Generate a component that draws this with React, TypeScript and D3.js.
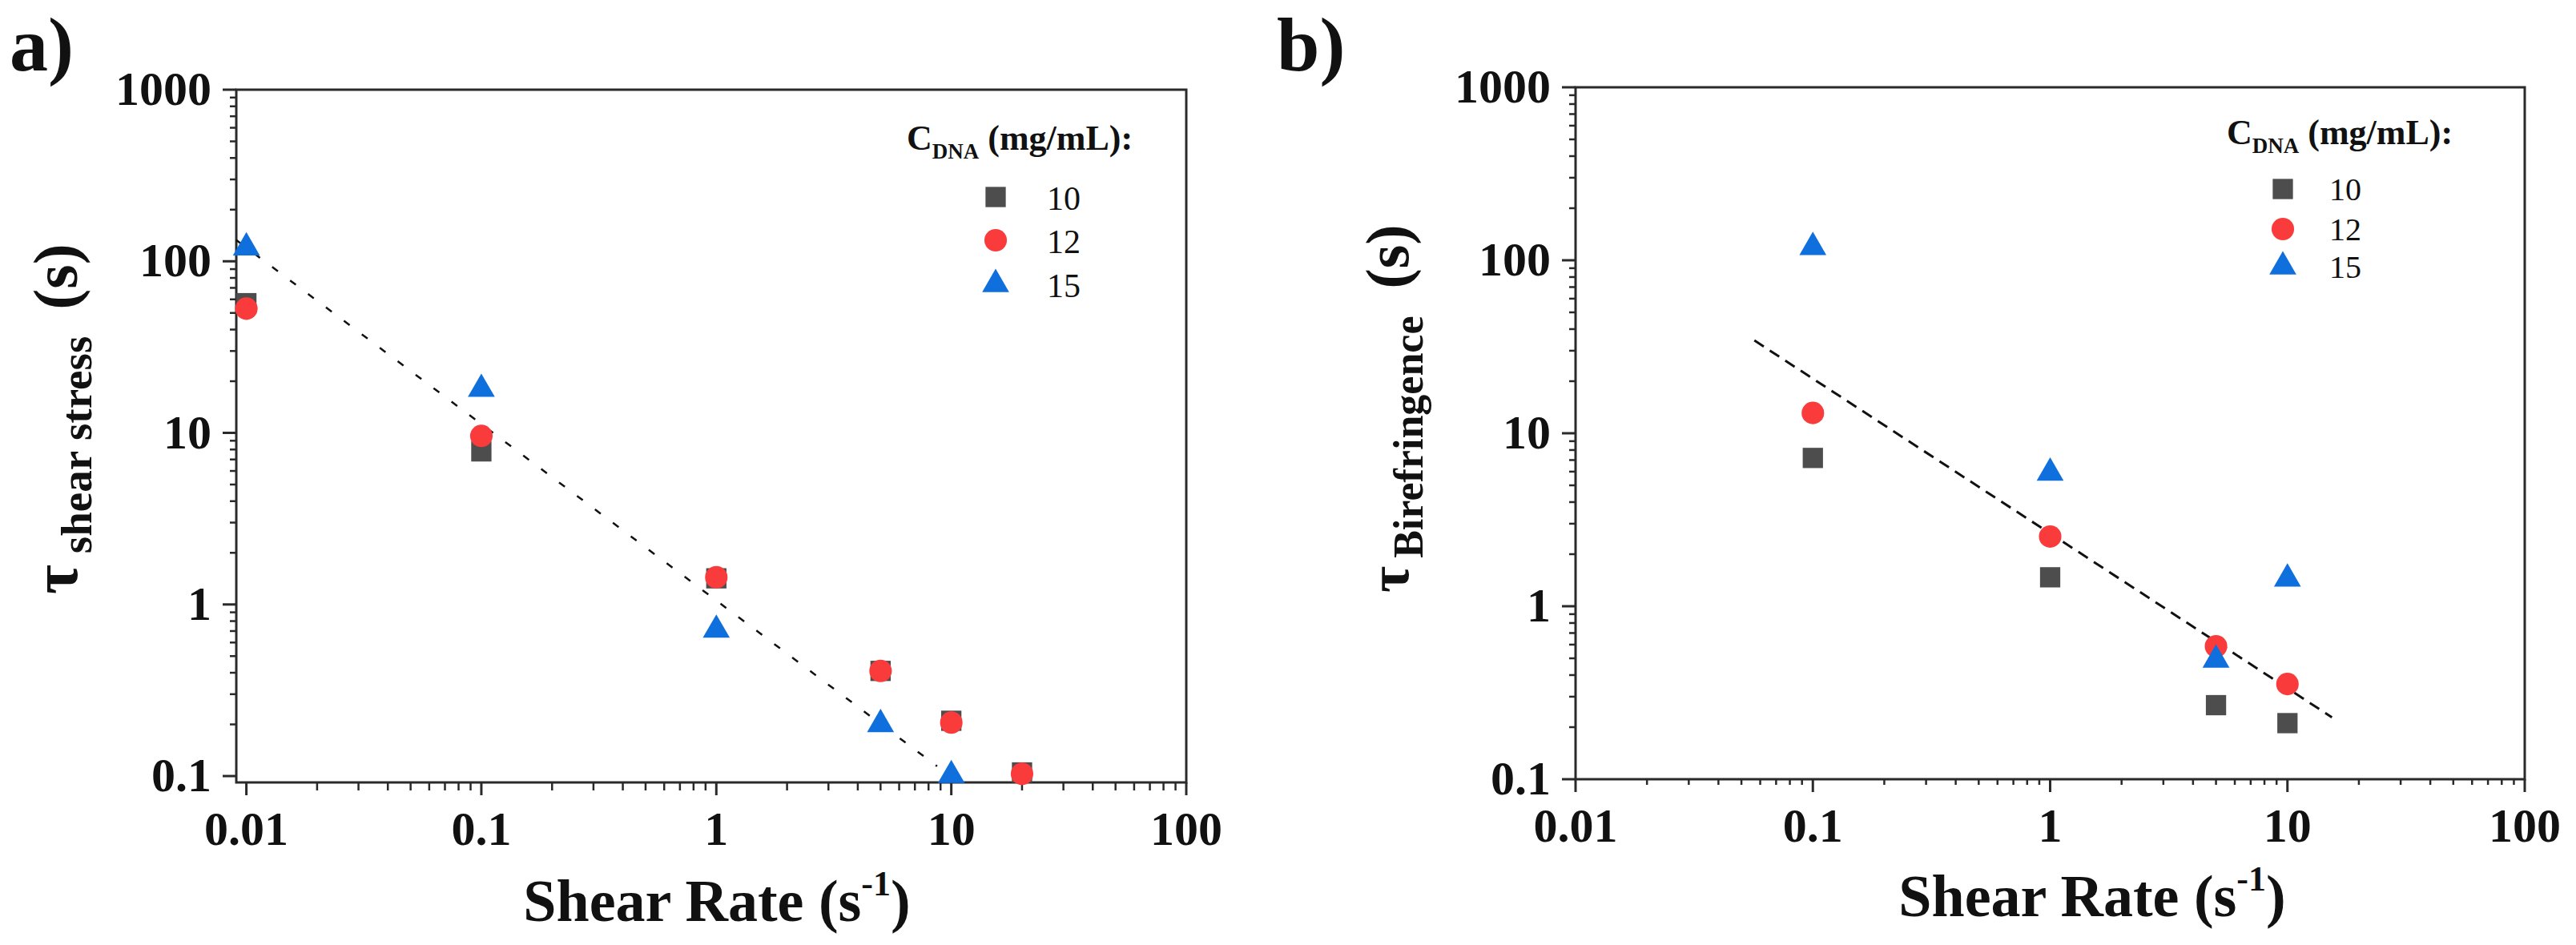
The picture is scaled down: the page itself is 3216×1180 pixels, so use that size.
import React, { useRef, useEffect } from 'react'
import * as d3 from 'd3'

const WIDTH = 3216
const HEIGHT = 1180

// panel a) relaxation time from shear stress
const rateA = [0.01, 0.1, 1, 5, 10, 20]
const rateA15 = [0.01, 0.1, 1, 5, 10]
const stress10 = [57, 7.8, 1.42, 0.41, 0.21, 0.105]
const stress12 = [53, 9.6, 1.44, 0.41, 0.205, 0.103]
const stress15 = [120, 18, 0.71, 0.2, 0.101]
const fitAX = [0.00906, 8.7]
const fitAY = [133, 0.114]

// panel b) relaxation time from birefringence
const rateB = [0.1, 1, 5, 10]
const bire10 = [7.2, 1.47, 0.268, 0.211]
const bire12 = [13.1, 2.53, 0.587, 0.355]
const bire15 = [119, 5.9, 0.49, 1.44]
const fitBX = [0.0567, 15.4]
const fitBY = [34.4, 0.228]

const xTickLabels = ['0.01', '0.1', '1', '10', '100']
const yTickLabels = ['0.1', '1', '10', '100', '1000']
const legendLabels = ['10', '12', '15']

const COLORS = {
  c10: '#4d4d4d',
  c12: '#fa3b3b',
  c15: '#0f6fdc',
  axis: '#2a2a2a',
  text: '#111111'
}

const FONT = '"Liberation Serif", "Times New Roman", serif'

const SYMBOLS = [
  { type: d3.symbolSquare, size: 640, color: COLORS.c10 },
  { type: d3.symbolCircle, size: 620, color: COLORS.c12 },
  { type: d3.symbolTriangle, size: 490, color: COLORS.c15 }
]

interface Series {
  x: number[]
  y: number[]
}

interface PanelOpts {
  left: number
  right: number
  top: number
  bottom: number
  xDomain: [number, number]
  yDomain: [number, number]
  series: Series[]
  fitX: number[]
  fitY: number[]
  dash: string
  dashWidth: number
  xMinorLen: number
  letter: string
  letterX: number
  yTitle: { x: number; y: number; sub: string; tauSize: number; subSize: number; subDx: number; parenDx: number; parenSize: number }
  xTitleX: number
  xTitleY: number
  legend: { x: number; y: number; markerX: number; labelX: number; rows: number[]; labelDy: number; fontSize: number }
}

function drawPanel(svg: d3.Selection<SVGSVGElement, unknown, null, undefined>, p: PanelOpts) {
  const g = svg.append('g')
  const x = d3.scaleLog().domain(p.xDomain).range([p.left, p.right])
  const y = d3.scaleLog().domain(p.yDomain).range([p.bottom, p.top])
  const isMajor = (v: number) => Math.abs(Math.log10(v) - Math.round(Math.log10(v))) < 1e-6

  // frame
  g.append('rect')
    .attr('x', p.left)
    .attr('y', p.top)
    .attr('width', p.right - p.left)
    .attr('height', p.bottom - p.top)
    .attr('fill', 'none')
    .attr('stroke', COLORS.axis)
    .attr('stroke-width', 3)

  // x ticks (outward, below)
  x.ticks().forEach(v => {
    g.append('line')
      .attr('x1', x(v)).attr('x2', x(v))
      .attr('y1', p.bottom).attr('y2', p.bottom + (isMajor(v) ? 16 : p.xMinorLen))
      .attr('stroke', COLORS.axis)
      .attr('stroke-width', isMajor(v) ? 3 : 2.5)
  })

  // y ticks (outward, left)
  y.ticks().forEach(v => {
    g.append('line')
      .attr('x1', p.left).attr('x2', p.left - (isMajor(v) ? 17 : 8))
      .attr('y1', y(v)).attr('y2', y(v))
      .attr('stroke', COLORS.axis)
      .attr('stroke-width', isMajor(v) ? 3 : 2.5)
  })

  // tick labels
  g.selectAll('.xlab')
    .data(xTickLabels)
    .enter().append('text')
    .attr('x', d => x(+d))
    .attr('y', p.bottom + 78)
    .attr('text-anchor', 'middle')
    .style('font-size', '60px')
    .style('font-weight', 'bold')
    .style('font-family', FONT)
    .style('fill', COLORS.text)
    .text(d => d)

  g.selectAll('.ylab')
    .data(yTickLabels)
    .enter().append('text')
    .attr('x', p.left - 31)
    .attr('y', d => y(+d) + 19)
    .attr('text-anchor', 'end')
    .style('font-size', '60px')
    .style('font-weight', 'bold')
    .style('font-family', FONT)
    .style('fill', COLORS.text)
    .text(d => d)

  // fit line
  const line = d3.line<number>()
    .x((_, i) => x(p.fitX[i]))
    .y(d => y(d))
  g.append('path')
    .attr('d', line(p.fitY))
    .attr('fill', 'none')
    .attr('stroke', '#111')
    .attr('stroke-width', p.dashWidth)
    .attr('stroke-dasharray', p.dash)

  // markers: squares, then circles, then triangles on top
  p.series.forEach((s, k) => {
    const sym = SYMBOLS[k]
    g.selectAll(`.m${k}`)
      .data(s.y)
      .enter().append('path')
      .attr('d', d3.symbol().type(sym.type).size(sym.size)())
      .attr('transform', (d, i) => `translate(${x(s.x[i])},${y(d)})`)
      .attr('fill', sym.color)
  })

  // panel letter
  g.append('text')
    .attr('x', p.letterX)
    .attr('y', 88)
    .style('font-size', '96px')
    .style('font-weight', 'bold')
    .style('font-family', FONT)
    .style('fill', COLORS.text)
    .text(p.letter)

  // y title (rotated)
  const yt = p.yTitle
  const ytext = g.append('text')
    .attr('transform', `translate(${yt.x},${yt.y}) rotate(-90)`)
    .style('font-weight', 'bold')
    .style('font-family', FONT)
    .style('fill', COLORS.text)
  ytext.append('tspan').style('font-size', `${yt.tauSize}px`).text('τ')
  ytext.append('tspan').attr('dx', yt.subDx).attr('dy', 18).style('font-size', `${yt.subSize}px`).text(yt.sub)
  ytext.append('tspan').attr('dx', yt.parenDx).attr('dy', -18).style('font-size', `${yt.parenSize}px`).text('(s)')

  // x title
  const xt = g.append('text')
    .attr('x', p.xTitleX)
    .attr('y', p.xTitleY)
    .attr('text-anchor', 'middle')
    .style('font-weight', 'bold')
    .style('font-family', FONT)
    .style('fill', COLORS.text)
  xt.append('tspan').style('font-size', '74px').text('Shear Rate (s')
  xt.append('tspan').attr('dy', -32).style('font-size', '44px').text('-1')
  xt.append('tspan').attr('dy', 32).style('font-size', '74px').text(')')

  // legend
  const lg = p.legend
  const lt = g.append('text')
    .attr('x', lg.x)
    .attr('y', lg.y)
    .style('font-weight', 'bold')
    .style('font-family', FONT)
    .style('fill', COLORS.text)
  lt.append('tspan').style('font-size', '44px').text('C')
  lt.append('tspan').attr('dy', 11).style('font-size', '27px').text('DNA')
  lt.append('tspan').attr('dy', -11).style('font-size', '44px').text(' (mg/mL):')

  legendLabels.forEach((lab, k) => {
    const sym = SYMBOLS[k]
    g.append('path')
      .attr('d', d3.symbol().type(sym.type).size(sym.size)())
      .attr('transform', `translate(${lg.markerX},${lg.rows[k]})`)
      .attr('fill', sym.color)
    g.append('text')
      .attr('x', lg.labelX)
      .attr('y', lg.rows[k] + lg.labelDy)
      .style('font-size', `${lg.fontSize}px`)
      .style('font-family', FONT)
      .style('fill', COLORS.text)
      .text(lab)
  })
}

export default function App() {
  const svgRef = useRef<SVGSVGElement>(null)

  useEffect(() => {
    if (!svgRef.current) return
    const svg = d3.select(svgRef.current)
    svg.selectAll('*').remove()

    drawPanel(svg, {
      left: 295, right: 1481, top: 112, bottom: 977,
      xDomain: [0.00906, 100],
      yDomain: [0.0918, 1000],
      series: [
        { x: rateA, y: stress10 },
        { x: rateA, y: stress12 },
        { x: rateA15, y: stress15 }
      ],
      fitX: fitAX,
      fitY: fitAY,
      dash: '9,19',
      dashWidth: 2.5,
      xMinorLen: 10,
      letter: 'a)',
      letterX: 12,
      yTitle: { x: 96, y: 742, sub: 'shear stress', tauSize: 80, subSize: 55, subDx: 14, parenDx: 33, parenSize: 78 },
      xTitleX: 895,
      xTitleY: 1150,
      legend: { x: 1132, y: 187, markerX: 1243, labelX: 1307, rows: [246, 300, 355], labelDy: 16, fontSize: 42 }
    })

    drawPanel(svg, {
      left: 1967, right: 3152, top: 109, bottom: 973,
      xDomain: [0.01, 100],
      yDomain: [0.1, 1000],
      series: [
        { x: rateB, y: bire10 },
        { x: rateB, y: bire12 },
        { x: rateB, y: bire15 }
      ],
      fitX: fitBX,
      fitY: fitBY,
      dash: '14,9',
      dashWidth: 3,
      xMinorLen: 7,
      letter: 'b)',
      letterX: 1594,
      yTitle: { x: 1758, y: 740, sub: 'Birefringence', tauSize: 72, subSize: 52, subDx: 10, parenDx: 34, parenSize: 76 },
      xTitleX: 2612,
      xTitleY: 1144,
      legend: { x: 2780, y: 180, markerX: 2850, labelX: 2908, rows: [236, 286, 333], labelDy: 14, fontSize: 40 }
    })
  }, [])

  return (
    <div style={{ position: 'absolute', left: 0, top: 0 }}>
      <svg
        ref={svgRef}
        width={WIDTH}
        height={HEIGHT}
        style={{ display: 'block', backgroundColor: 'white', fontFamily: FONT }}
      />
    </div>
  )
}
